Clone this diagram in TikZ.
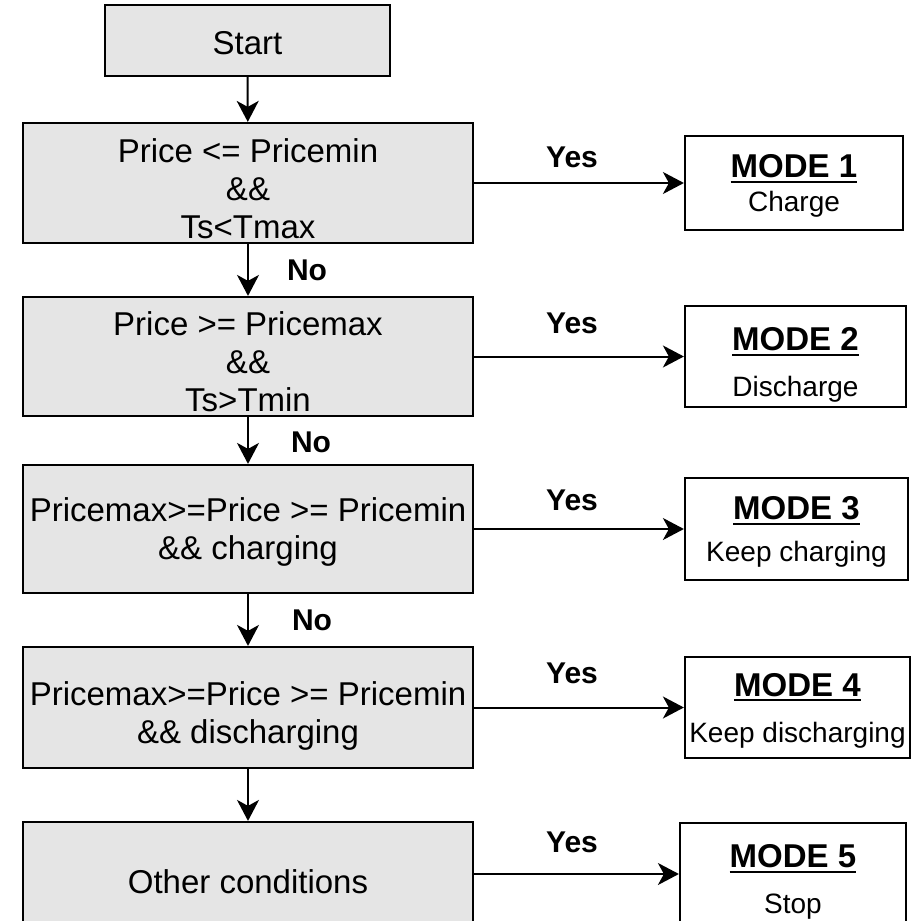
\documentclass[tikz,border=0pt]{standalone}
\usepackage{fontspec}
\setmainfont{Liberation Sans}
\usetikzlibrary{arrows.meta}

\newcommand{\modetitle}[1]{{\fontsize{16.5}{18}\selectfont\bfseries\setbox0\hbox{MODE #1}\rlap{\rule[-2.6pt]{\wd0}{1pt}}\box0}}
\newcommand{\lowtext}[1][17pt]{\rule{0pt}{#1}}

\begin{document}
\begin{tikzpicture}[x=.5pt, y=-.5pt,
	cond/.style={draw, line width=1.1pt, fill=black!10, inner sep=0pt, align=center, minimum width=225pt, minimum height=60pt, text depth=0pt, font=\fontsize{16.5}{19}\selectfont},
	modebox/.style={draw, line width=1.1pt, inner sep=0pt, align=center, text depth=0pt, font=\fontsize{14}{17}\selectfont},
	lbl/.style={font=\fontsize{15}{18}\selectfont\bfseries},
	flow/.style={line width=1pt, -{Stealth[length=10.5pt, width=11pt, inset=3pt]}}]
	\useasboundingbox (0,0) rectangle (918,921);
	\clip (0,0) rectangle (918,921);
	
	% left column
	\node[cond, minimum width=142.5pt, minimum height=35.5pt] (start) at (247.5,40.5){\lowtext[14pt]Start};
	\node[cond] (c1) at (248,183){\lowtext Price <= Pricemin\\\&\&\\Ts<Tmax};
	\node[cond, minimum height=59.5pt] (c2) at (248,356.5){\lowtext Price >= Pricemax\\\&\&\\Ts>Tmin};
	\node[cond, minimum height=64pt] (c3) at (248,529){Pricemax>=Price >= Pricemin\\\&\& charging};
	\node[cond, minimum height=60.5pt] (c4) at (248,707.5){\lowtext Pricemax>=Price >= Pricemin\\\&\& discharging};
	\node[cond] (c5) at (248,882){Other conditions};
	
	% modes
	\node[modebox, minimum width=109pt, minimum height=47pt] (m1) at (794,183){\modetitle{1}\\Charge};
	\node[modebox, minimum width=110.5pt, minimum height=50.5pt] (m2) at (795.5,356.5){\lowtext\modetitle{2}\\[6pt]Discharge};
	\node[modebox, minimum width=111.5pt, minimum height=51pt] (m3) at (796.5,529){\modetitle{3}\\[4pt]Keep charging};
	\node[modebox, minimum width=112.5pt, minimum height=50.5pt] (m4) at (797.5,707.5){\modetitle{4}\\[6pt]Keep discharging};
	\node[modebox, minimum width=113pt, minimum height=56pt] (m5) at (793,879){\modetitle{5}\\[6pt]Stop};
	
	\draw[flow] (start) -- (c1);
	\draw[flow] (c1) -- (c2);
	\draw[flow] (c2) -- (c3);
	\draw[flow] (c3) -- (c4);
	\draw[flow] (c4) -- (c5);
	
	\draw[flow] (c1.east) -- (m1.west);
	\draw[flow] (c2.east) -- (m2.west);
	\draw[flow] (c3.east) -- (m3.west);
	\draw[flow] (c4.east) -- (m4.west);
	\draw[flow] ([yshift=2.5pt]m5.west -| c5.east) -- ([yshift=2.5pt]m5.west);
	
	\node[lbl] (no1) at (307,270){No};
	\node[lbl] (no2) at (311,442){No};
	\node[lbl] (no3) at (312,620){No};
	
	\node[lbl] (yes1) at (572,157){Yes};
	\node[lbl] (yes2) at (572,323){Yes};
	\node[lbl] (yes3) at (572,500){Yes};
	\node[lbl] (yes4) at (572,673){Yes};
	\node[lbl] (yes5) at (572,842){Yes};
\end{tikzpicture}
\end{document}
